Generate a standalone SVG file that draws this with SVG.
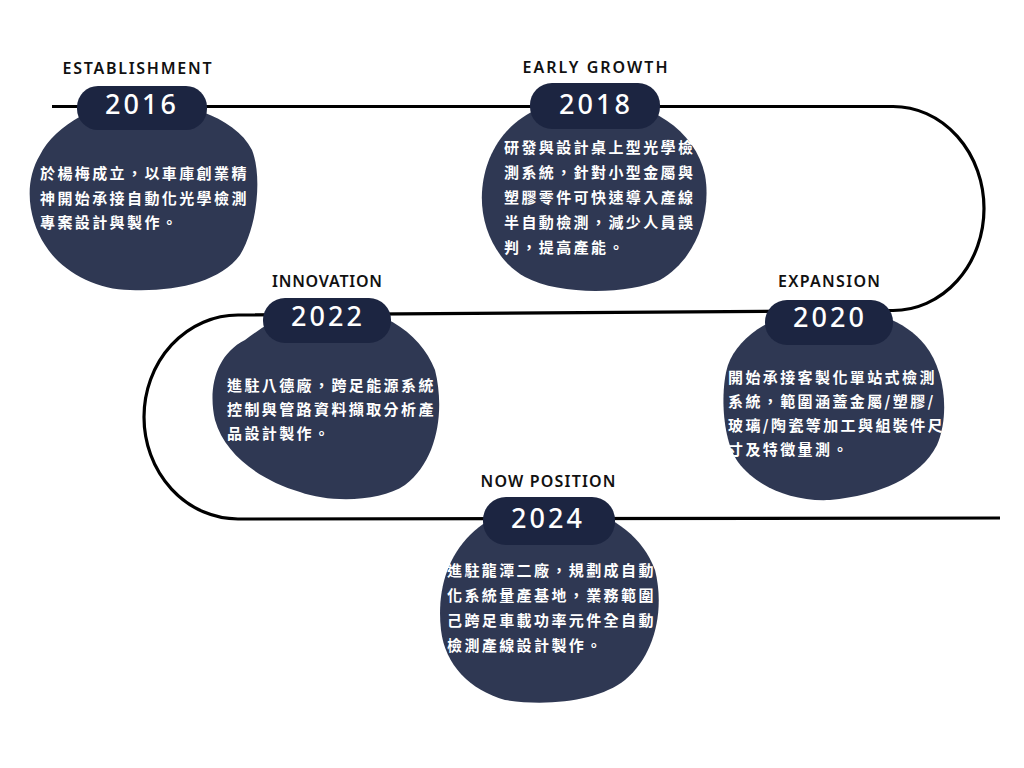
<svg xmlns="http://www.w3.org/2000/svg" width="1024" height="768" viewBox="0 0 1024 768">
<style>
.line{fill:none;stroke:#000;stroke-width:3.2;stroke-linecap:butt}
.blob{fill:#2f3853}
.badge{fill:#1c2541}
.year{font-family:"Noto Sans","Open Sans",sans-serif;font-weight:500;font-size:27px;fill:#fff;text-anchor:middle;letter-spacing:3px}
.title{font-family:"Noto Sans","Liberation Sans",sans-serif;font-weight:600;font-size:16px;fill:#111;text-anchor:middle}
.body{font-family:"Noto Sans CJK TC","Noto Sans CJK SC",sans-serif;font-weight:700;font-size:15px;fill:#fff;letter-spacing:2.4px}
</style>
<rect width="1024" height="768" fill="#fff"/>
<g id="connectors">
<path class="line" d="M52,106.5 L893,106.5 A91,102 0 0 1 893,310.5 L238,315 A94,102 0 0 0 238,519 L1000,518"/>
</g>
<g id="node-2016">
<path class="blob" d="M140,100 C175,100 235,115 252,150 C262,175 258,225 240,255 C220,282 175,292 130,290 C95,290 60,270 45,245 C30,222 22,185 40,155 C55,125 100,100 140,100 Z"/>
<rect class="badge" x="77" y="86" width="130" height="44" rx="21"/>
<text class="title" x="137" y="74" textLength="149" lengthAdjust="spacing">ESTABLISHMENT</text>
<text class="year" x="142" y="114">2016</text>
<text class="body" x="40" y="179">於楊梅成立，以車庫創業精</text>
<text class="body" x="40" y="204">神開始承接自動化光學檢測</text>
<text class="body" x="40" y="228">專案設計與製作。</text>
</g>
<g id="node-2018">
<path class="blob" d="M595,100 C650,100 695,130 705,175 C712,215 695,260 660,280 C630,294 560,296 525,277 C495,260 480,225 482,192 C484,160 500,125 540,108 C560,101 580,100 595,100 Z"/>
<rect class="badge" x="530" y="83" width="130" height="46" rx="22"/>
<text class="title" x="595" y="73" textLength="145" lengthAdjust="spacing">EARLY GROWTH</text>
<text class="year" x="596" y="114">2018</text>
<text class="body" x="504" y="153">研發與設計桌上型光學檢</text>
<text class="body" x="504" y="178">測系統，針對小型金屬與</text>
<text class="body" x="504" y="203">塑膠零件可快速導入產線</text>
<text class="body" x="504" y="228">半自動檢測，減少人員誤</text>
<text class="body" x="504" y="253">判，提高產能。</text>
</g>
<g id="node-2022">
<path class="blob" d="M327,305 C375,305 420,330 435,370 C445,410 438,460 405,485 C380,502 330,503 300,492 C260,480 225,455 215,420 C208,390 215,355 245,340 C265,325 295,305 327,305 Z"/>
<rect class="badge" x="263" y="298" width="128" height="45" rx="22"/>
<text class="title" x="327" y="287" textLength="110" lengthAdjust="spacing">INNOVATION</text>
<text class="year" x="328" y="326">2022</text>
<text class="body" x="227" y="391">進駐八德廠，跨足能源系統</text>
<text class="body" x="227" y="415">控制與管路資料擷取分析產</text>
<text class="body" x="227" y="439">品設計製作。</text>
</g>
<g id="node-2020">
<path class="blob" d="M829,308 C870,308 905,320 925,345 C945,370 950,415 937,445 C920,478 880,495 830,500 C790,502 755,485 738,462 C722,440 720,390 728,365 C738,335 780,308 829,308 Z"/>
<rect class="badge" x="765" y="300" width="128" height="45" rx="22"/>
<text class="title" x="829" y="287" textLength="102" lengthAdjust="spacing">EXPANSION</text>
<text class="year" x="830" y="327">2020</text>
<text class="body" x="728" y="383">開始承接客製化單站式檢測</text>
<text class="body" x="728" y="407">系統，範圍涵蓋金屬/塑膠/</text>
<text class="body" x="728" y="431">玻璃/陶瓷等加工與組裝件尺</text>
<text class="body" x="728" y="455">寸及特徵量測。</text>
</g>
<g id="node-2024">
<path class="blob" d="M548,505 C600,505 640,530 655,570 C665,610 655,655 625,680 C600,700 550,707 505,700 C470,690 445,665 441,630 C437,595 445,560 470,535 C490,515 520,505 548,505 Z"/>
<rect class="badge" x="483" y="497" width="132" height="48" rx="23"/>
<text class="title" x="548" y="487" textLength="135" lengthAdjust="spacing">NOW POSITION</text>
<text class="year" x="548" y="528">2024</text>
<text class="body" x="447" y="576">進駐龍潭二廠，規劃成自動</text>
<text class="body" x="447" y="601">化系統量產基地，業務範圍</text>
<text class="body" x="447" y="626">己跨足車載功率元件全自動</text>
<text class="body" x="447" y="651">檢測產線設計製作。</text>
</g>
</svg>
